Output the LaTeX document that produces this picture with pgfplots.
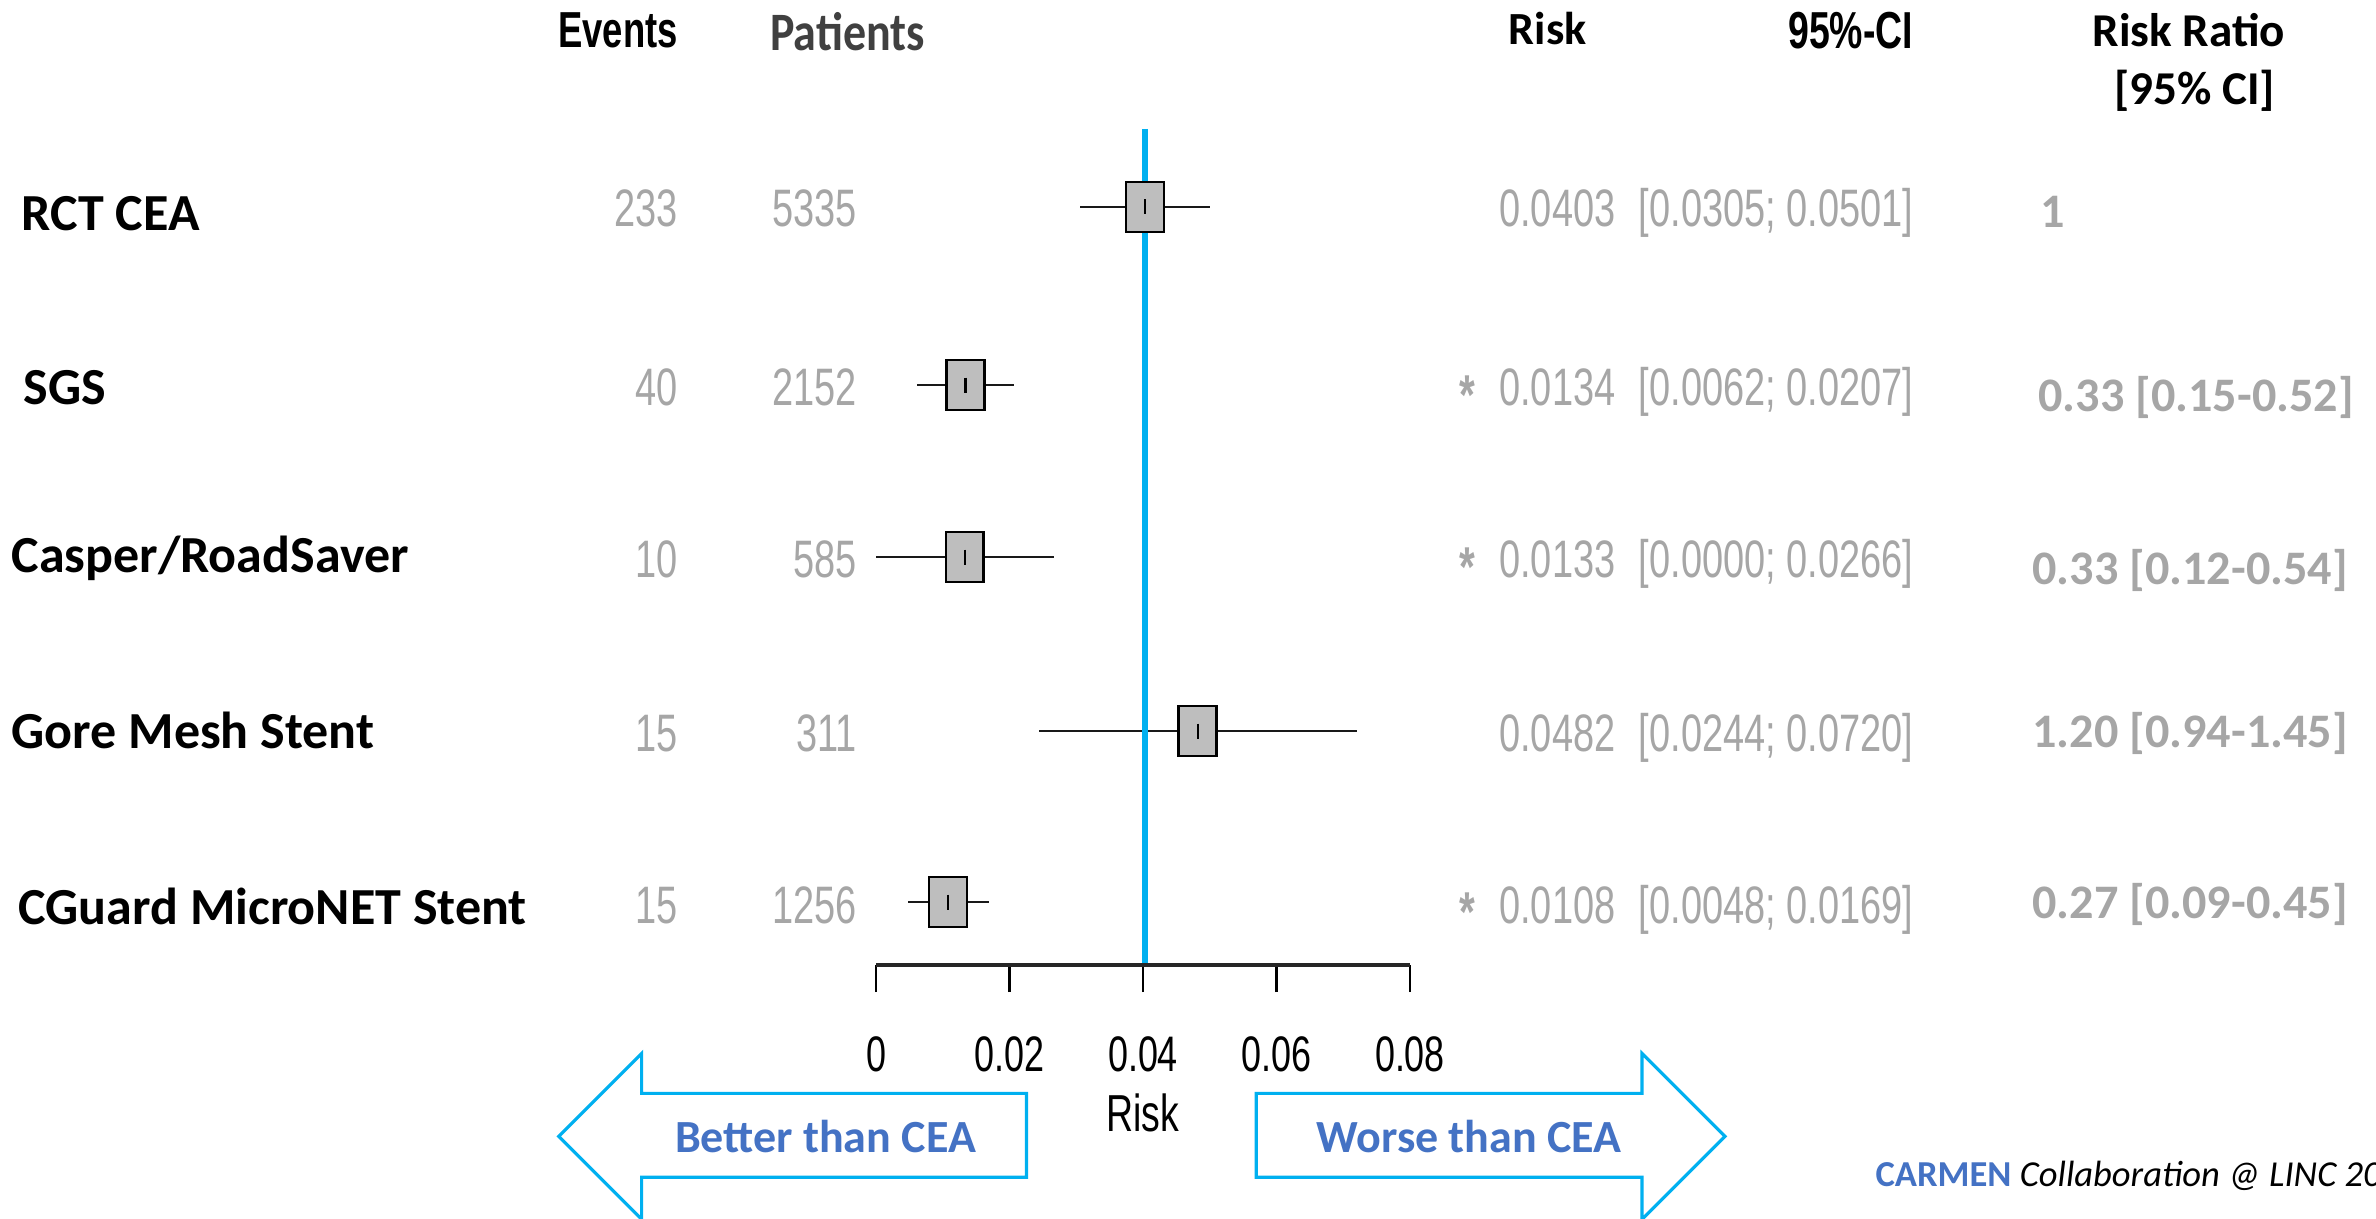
\documentclass[border=0pt]{standalone}
\usepackage{pgfplots}
\pgfplotsset{compat=1.18}
\usepackage{pgfplotstable}
\usepackage{fontspec}
\setmainfont{Carlito}
\newfontfamily\narrow[FakeStretch=0.72]{Liberation Sans}
\newfontfamily\patfont[FakeStretch=0.85]{Carlito}
\definecolor{cyanline}{HTML}{00B0F0}
\definecolor{txtblue}{HTML}{4472C4}
\definecolor{numgray}{HTML}{A6A6A6}
\definecolor{sqgray}{HTML}{BEBEBE}
\definecolor{patgray}{HTML}{404040}

% risk, lower CI, upper CI, vertical position (pixels from top)
\pgfplotstableread{
r      lo     hi     y
0.0403 0.0305 0.0501 207
0.0134 0.0062 0.0207 385
0.0133 0.0000 0.0266 557
0.0482 0.0244 0.0720 731
0.0108 0.0048 0.0169 902
}\forestdata

\begin{document}
\begin{tikzpicture}
\useasboundingbox (0,0) rectangle (23.76,12.18);
\begin{axis}[at={(0,0)}, anchor=south west, scale only axis,
  width=23.76cm, height=12.18cm,
  xmin=-0.131236, xmax=0.224719, ymin=0, ymax=1218, y dir=reverse,
  hide axis, clip=false]
  % squares
  \addplot[only marks, mark=square*, mark size=7.1pt,
    mark options={xscale=0.76, fill=sqgray, draw=black, line width=0.75pt}]
    table[x=r, y=y] {\forestdata};
  % confidence intervals + point estimate tick
  \addplot[only marks, black, mark=|, mark size=0.075cm,
    mark options={line width=0.7pt},
    error bars/.cd, x dir=both, x explicit, error mark=none,
    error bar style={line width=0.75pt, black!90}]
    table[x=r, y=y, x error plus expr={\thisrow{hi}-\thisrow{r}},
          x error minus expr={\thisrow{r}-\thisrow{lo}}] {\forestdata};
  % reference line
  \addplot[cyanline, line width=1.7pt] coordinates {(0.0403,129) (0.0403,965)};
\end{axis}
\begin{axis}[at={(8.76cm,2.53cm)}, anchor=south west, scale only axis,
  width=5.34cm, height=1cm, xmin=0, xmax=0.08, ymin=0, ymax=1,
  axis x line*=bottom, axis y line=none, scaled x ticks=false,
  xtick={0,0.02,0.04,0.06,0.08}, xticklabels={0,0.02,0.04,0.06,0.08},
  ytick=\empty, tick align=outside, major tick length=0.27cm,
  every tick/.style={black, line width=0.6pt},
  x axis line style={line width=0.9pt, black!85},
  xticklabel style={font=\narrow\fontsize{14.2}{14}\selectfont, anchor=base, yshift=-0.79cm, inner sep=0pt},
  xlabel={Risk},
  xlabel style={font=\narrow\fontsize{14.8}{15}\selectfont, at={(axis description cs:0.5,0)}, anchor=base, yshift=-1.66cm, inner sep=0pt}]
\end{axis}

\begin{scope}[x=0.01cm, y=-0.01cm, shift={(0,12.18cm)}, every node/.style={inner sep=0pt}]
  % headers
  \node[anchor=base east, font=\narrow\bfseries\fontsize{14.4}{15}\selectfont] at (679,48) {Events};
  \node[anchor=base west, text=patgray, font=\patfont\bfseries\fontsize{15.4}{16}\selectfont] at (770,51) {Patients};
  \node[anchor=base west, font=\bfseries\fontsize{13.1}{14}\selectfont] at (1509,45) {Risk};
  \node[anchor=base east, font=\narrow\bfseries\fontsize{14.8}{15}\selectfont] at (1915,49) {95\%-CI};
  \node[anchor=base, font=\bfseries\fontsize{13.4}{14}\selectfont] at (2190,47) {Risk Ratio};
  \node[anchor=base, font=\bfseries\fontsize{13.4}{14}\selectfont] at (2196,105) {[95\% CI]};
  % row labels
  \begin{scope}[every node/.append style={anchor=base west, font=\bfseries\fontsize{14.8}{16}\selectfont}]
    \node at (21,231) {RCT CEA};
    \node at (23,405) {SGS};
    \node at (11,573) {Casper/RoadSaver};
    \node at (11,749) {Gore Mesh Stent};
    \node at (18,925) {CGuard MicroNET Stent};
  \end{scope}
  % events / patients / risk / CI
  \begin{scope}[every node/.append style={anchor=base east, text=numgray, font=\narrow\fontsize{15}{16}\selectfont}]
    \node at (679,227) {233};  \node at (858,227) {5335};
    \node at (679,406) {40};   \node at (858,406) {2152};
    \node at (679,578) {10};   \node at (858,578) {585};
    \node at (679,752) {15};   \node at (858,752) {311};
    \node at (679,924) {15};   \node at (858,924) {1256};
    \node at (1617,227) {0.0403}; \node at (1915,227) {[0.0305; 0.0501]};
    \node at (1617,406) {0.0134}; \node at (1915,406) {[0.0062; 0.0207]};
    \node at (1617,578) {0.0133}; \node at (1915,578) {[0.0000; 0.0266]};
    \node at (1617,752) {0.0482}; \node at (1915,752) {[0.0244; 0.0720]};
    \node at (1617,924) {0.0108}; \node at (1915,924) {[0.0048; 0.0169]};
  \end{scope}
  % asterisks
  \begin{scope}[every node/.append style={anchor=base, text=numgray, font=\narrow\bfseries\fontsize{16}{16}\selectfont}]
    \node at (1468,415) {*};
    \node at (1468,587) {*};
    \node at (1468,932) {*};
  \end{scope}
  % risk ratios
  \begin{scope}[every node/.append style={anchor=base west, text=numgray, font=\bfseries\fontsize{13.7}{15}\selectfont}]
    \node at (2041,228) {1};
    \node at (2039,412) {0.33 [0.15-0.52]};
    \node at (2033,585) {0.33 [0.12-0.54]};
    \node at (2033,748) {1.20 [0.94-1.45]};
    \node at (2033,919) {0.27 [0.09-0.45]};
  \end{scope}
  % arrows
  \draw[cyanline, line width=0.9pt, fill=white]
    (559,1137) -- (642,1054) -- (642,1094) -- (1027,1094) -- (1027,1178)
    -- (642,1178) -- (642,1220) -- cycle;
  \draw[cyanline, line width=0.9pt, fill=white]
    (1726,1137) -- (1643,1054) -- (1643,1094) -- (1257,1094) -- (1257,1178)
    -- (1643,1178) -- (1643,1220) -- cycle;
  \node[anchor=base, text=txtblue, font=\bfseries\fontsize{13.1}{14}\selectfont] at (826,1153) {Better than CEA};
  \node[anchor=base, text=txtblue, font=\bfseries\fontsize{13.1}{14}\selectfont] at (1470,1153) {Worse than CEA};
  \node[anchor=base west, font=\fontsize{10.4}{12}\selectfont] at (1876,1187)
    {\textcolor{txtblue}{\bfseries CARMEN} \itshape Collaboration @ LINC 2019};
\end{scope}
\end{tikzpicture}
\end{document}
